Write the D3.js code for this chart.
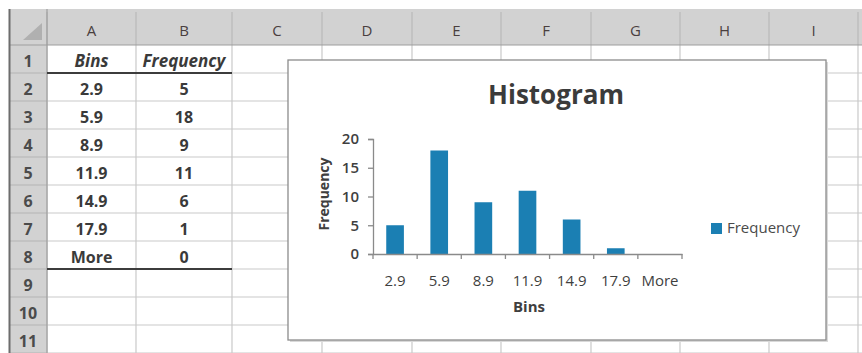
<!DOCTYPE html>
<html>
<head>
<meta charset="utf-8">
<script src="https://cdn.jsdelivr.net/npm/d3@7"></script>
<style>
  html, body { margin: 0; padding: 0; background: #fff; }
  svg { display: block; }
</style>
</head>
<body>
<svg id="sheet" width="862" height="353"></svg>
<script>
// Worksheet contents
const bins = ["2.9", "5.9", "8.9", "11.9", "14.9", "17.9", "More"];
const frequency = [5, 18, 9, 11, 6, 1, 0];
const yTicks = [0, 5, 10, 15, 20];
const columnLetters = ["A", "B", "C", "D", "E", "F", "G", "H", "I"];
const rowNumbers = [1, 2, 3, 4, 5, 6, 7, 8, 9, 10, 11];
const headerRow = ["Bins", "Frequency"];

const svg = d3.select("#sheet");
const FONT = "'Open Sans', Lato, sans-serif";

// ---- Spreadsheet grid ----
const gridLeft = 10, headerTop = 9, headerBottom = 45, rowH = 28;
const colEdges = [47, 136, 232, 322, 412, 501, 591, 680, 769, 858];
const rowY = d3.scaleLinear().domain([0, 1]).range([headerBottom, headerBottom + rowH]);
const textDy = 8; // baseline offset below row centre

// header background
svg.append("rect").attr("x", gridLeft).attr("y", headerTop)
  .attr("width", 862 - gridLeft).attr("height", headerBottom - headerTop).attr("fill", "#d2d2d2");
svg.append("rect").attr("x", gridLeft).attr("y", headerTop)
  .attr("width", colEdges[0] - gridLeft).attr("height", 353 - headerTop).attr("fill", "#d2d2d2");

// select-all triangle
svg.append("path")
  .attr("d", `M${colEdges[0] - 5},${headerTop + 14} L${colEdges[0] - 5},${headerBottom - 5} L${colEdges[0] - 24},${headerBottom - 5} Z`)
  .attr("fill", "#b0b0b0");

// cell grid lines
const grid = svg.append("g").attr("stroke", "#c9c9c9").attr("stroke-width", 1.2);
rowNumbers.forEach(r => {
  grid.append("line").attr("x1", colEdges[0]).attr("x2", 862)
    .attr("y1", rowY(r)).attr("y2", rowY(r));
});
colEdges.forEach(x => {
  grid.append("line").attr("x1", x).attr("x2", x)
    .attr("y1", headerBottom).attr("y2", 353);
});

// header separators
const hsep = svg.append("g").attr("stroke", "#b4b4b4").attr("stroke-width", 1);
colEdges.forEach(x => {
  hsep.append("line").attr("x1", x).attr("x2", x).attr("y1", headerTop + 3).attr("y2", headerBottom);
});
rowNumbers.forEach(r => {
  hsep.append("line").attr("x1", gridLeft).attr("x2", colEdges[0]).attr("y1", rowY(r)).attr("y2", rowY(r));
});
svg.append("line").attr("x1", gridLeft).attr("x2", 862).attr("y1", headerBottom).attr("y2", headerBottom)
  .attr("stroke", "#9e9e9e").attr("stroke-width", 1.2);
svg.append("line").attr("x1", colEdges[0]).attr("x2", colEdges[0]).attr("y1", headerTop).attr("y2", 353)
  .attr("stroke", "#9e9e9e").attr("stroke-width", 1.2);
svg.append("line").attr("x1", gridLeft - 0.5).attr("x2", gridLeft - 0.5).attr("y1", headerTop).attr("y2", 353)
  .attr("stroke", "#6d6d6d").attr("stroke-width", 2);

// column letters
svg.append("g").selectAll("text").data(columnLetters).join("text")
  .attr("x", (d, i) => (colEdges[i] + colEdges[i + 1]) / 2)
  .attr("y", 36)
  .attr("text-anchor", "middle")
  .attr("font-family", FONT).attr("font-size", 15).attr("fill", "#4a3f3f")
  .text(d => d);

// row numbers
svg.append("g").selectAll("text").data(rowNumbers).join("text")
  .attr("x", 28).attr("y", d => rowY(d - 0.5) + textDy)
  .attr("text-anchor", "middle")
  .attr("font-family", FONT).attr("font-size", 16).attr("font-weight", 700).attr("fill", "#4b4b4b")
  .text(d => d);

// table cells
const colCenter = i => (colEdges[i] + colEdges[i + 1]) / 2;
svg.append("g").selectAll("text").data(headerRow).join("text")
  .attr("x", (d, i) => colCenter(i)).attr("y", rowY(0.5) + textDy)
  .attr("text-anchor", "middle")
  .attr("font-family", FONT).attr("font-size", 17).attr("font-weight", 700).attr("font-style", "italic")
  .attr("fill", "#3a3a3a").text(d => d);
svg.append("g").selectAll("text").data(bins).join("text")
  .attr("x", colCenter(0)).attr("y", (d, i) => rowY(i + 1.5) + textDy)
  .attr("text-anchor", "middle")
  .attr("font-family", FONT).attr("font-size", 16).attr("font-weight", 700)
  .attr("fill", "#3a3a3a").text(d => d);
svg.append("g").selectAll("text").data(frequency).join("text")
  .attr("x", colCenter(1)).attr("y", (d, i) => rowY(i + 1.5) + textDy)
  .attr("text-anchor", "middle")
  .attr("font-family", FONT).attr("font-size", 16).attr("font-weight", 700)
  .attr("fill", "#3a3a3a").text(d => d);

// table rules under header row and last row
[1, bins.length + 1].forEach(r => {
  svg.append("line").attr("x1", colEdges[0]).attr("x2", colEdges[2])
    .attr("y1", rowY(r)).attr("y2", rowY(r))
    .attr("stroke", "#3c3c3c").attr("stroke-width", 2);
});

// ---- Chart object ----
const box = { x: 288, y: 60, w: 538, h: 280 };
svg.append("rect").attr("x", box.x + 2).attr("y", box.y + 2).attr("width", box.w).attr("height", box.h)
  .attr("fill", "#d9d9d9");
svg.append("rect").attr("x", box.x).attr("y", box.y).attr("width", box.w).attr("height", box.h)
  .attr("fill", "#fff").attr("stroke", "#8c8c8c").attr("stroke-width", 1.3);

svg.append("text").attr("x", 556).attr("y", 104)
  .attr("text-anchor", "middle")
  .attr("font-family", FONT).attr("font-size", 26).attr("font-weight", 700).attr("fill", "#3b3b3b")
  .text("Histogram");

const x = d3.scaleBand().domain(bins).range([373, 682]).paddingInner(0.6).paddingOuter(0.3);
const y = d3.scaleLinear().domain([0, 20]).range([254, 139]);
const axisColor = "#8a8a8a";

// bars
svg.append("g").selectAll("rect").data(frequency).join("rect")
  .attr("x", (d, i) => x(bins[i]))
  .attr("width", x.bandwidth())
  .attr("y", d => y(d))
  .attr("height", d => y(0) - y(d))
  .attr("fill", "#1b7fb3");

// y axis
const yAxis = svg.append("g").attr("transform", `translate(${x.range()[0]},0)`)
  .call(d3.axisLeft(y).tickValues(yTicks).tickSize(5).tickPadding(9));
yAxis.select(".domain").attr("stroke", axisColor).attr("stroke-width", 1.3);
yAxis.selectAll(".tick line").attr("stroke", axisColor).attr("stroke-width", 1.3);
yAxis.selectAll(".tick text").attr("font-family", FONT).attr("font-size", 15)
  .attr("font-weight", 600).attr("fill", "#3f3f3f");

// x axis: labels centred under bars, ticks at category boundaries
const xAxis = svg.append("g").attr("transform", `translate(0,${y(0)})`)
  .call(d3.axisBottom(x).tickSize(0).tickPadding(0));
xAxis.select(".domain").attr("stroke", axisColor).attr("stroke-width", 1.3);
xAxis.selectAll(".tick text").attr("font-family", FONT).attr("font-size", 15)
  .attr("dy", null).attr("y", 32).attr("fill", "#3f3f3f");
const boundaries = d3.range(bins.length + 1).map(i => x.range()[0] + i * x.step());
svg.append("g").selectAll("line").data(boundaries).join("line")
  .attr("x1", d => d).attr("x2", d => d)
  .attr("y1", y(0)).attr("y2", y(0) + 5)
  .attr("stroke", axisColor).attr("stroke-width", 1.3);

// axis titles
svg.append("text").attr("x", 529).attr("y", 312)
  .attr("text-anchor", "middle")
  .attr("font-family", FONT).attr("font-size", 15).attr("font-weight", 700).attr("fill", "#3f3f3f")
  .text("Bins");
svg.append("text").attr("transform", "translate(329,194) rotate(-90)")
  .attr("text-anchor", "middle")
  .attr("font-family", FONT).attr("font-size", 14).attr("font-weight", 700).attr("fill", "#3f3f3f")
  .text("Frequency");

// legend
svg.append("rect").attr("x", 711).attr("y", 223).attr("width", 11).attr("height", 11).attr("fill", "#1b7fb3");
svg.append("text").attr("x", 727).attr("y", 233)
  .attr("font-family", FONT).attr("font-size", 15).attr("fill", "#4a4a4a")
  .text("Frequency");
</script>
</body>
</html>
